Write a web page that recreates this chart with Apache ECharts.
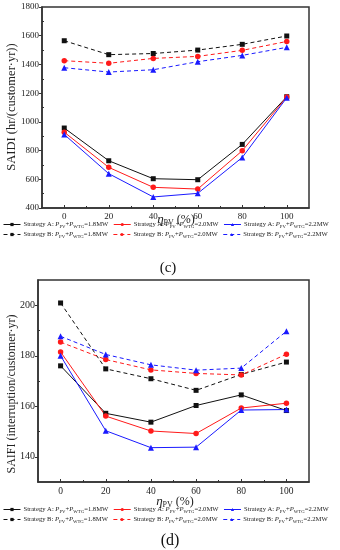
<!DOCTYPE html>
<html><head><meta charset="utf-8">
<script src="https://cdn.jsdelivr.net/npm/echarts@6/dist/echarts.min.js"></script>
<style>html,body{margin:0;padding:0;background:#fff}#c{width:340px;height:550px}</style>
</head><body><div id="c"></div>
<script>
var xValues = [0, 20, 40, 60, 80, 100];
var xMinorTicks = [10, 30, 50, 70, 90];
var saidiTicks = [400, 600, 800, 1000, 1200, 1400, 1600, 1800];
var saidiMinor = [500, 700, 900, 1100, 1300, 1500, 1700];
var saifiTicks = [140, 160, 180, 200];
var saifiMinor = [150, 170, 190];

// SAIDI (c)
var saidiA18 = [957, 729, 604, 597, 843, 1175];
var saidiA20 = [928, 683, 544, 532, 799, 1173];
var saidiA22 = [912, 639, 477, 502, 752, 1168];
var saidiB18 = [1565, 1468, 1476, 1500, 1540, 1598];
var saidiB20 = [1426, 1408, 1442, 1456, 1498, 1560];
var saidiB22 = [1377, 1347, 1363, 1419, 1463, 1519];
// SAIFI (d)
var saifiA18 = [176.0, 157.2, 153.7, 160.3, 164.5, 158.3];
var saifiA20 = [181.5, 156.1, 150.2, 149.2, 159.3, 161.2];
var saifiA22 = [180.0, 150.3, 143.6, 143.8, 158.5, 158.7];
var saifiB18 = [200.9, 174.8, 170.9, 166.3, 172.6, 177.5];
var saifiB20 = [185.4, 178.5, 174.4, 173.0, 172.4, 180.6];
var saifiB22 = [187.7, 180.5, 176.4, 174.3, 175.1, 189.7];

var names = {
  A18: 'Strategy A: PPV+PWTG=1.8MW', A20: 'Strategy A: PPV+PWTG=2.0MW', A22: 'Strategy A: PPV+PWTG=2.2MW',
  B18: 'Strategy B: PPV+PWTG=1.8MW', B20: 'Strategy B: PPV+PWTG=2.0MW', B22: 'Strategy B: PPV+PWTG=2.2MW'
};
var FONT = 'Liberation Serif';
var colors = {18: '#111111', 20: '#ff1a1a', 22: '#1a1aff'};
var symbols = {18: 'rect', 20: 'circle', 22: 'triangle'};
var symSizes = {18: 5, 20: 5.5, 22: 6};

function pairs(vals) { return vals.map(function (v, i) { return [xValues[i], v]; }); }

function mk(key, vals, gi) {
  var cap = key.substr(1);
  var dashed = key[0] === 'B';
  return {
    type: 'line', name: names[key], xAxisIndex: gi * 2, yAxisIndex: gi * 2,
    data: pairs(vals), symbol: symbols[cap], symbolSize: symSizes[cap],
    itemStyle: {color: colors[cap]},
    lineStyle: {color: colors[cap], width: 1, type: dashed ? [4, 3] : 'solid'},
    animation: false, z: dashed ? 2 : 3
  };
}

function legendFmt(name) {
  var m = name.match(/^(Strategy [AB]: )PPV\+PWTG(=.*)$/);
  return '{n|' + m[1] + '}{i|P}{s|PV}{n|+}{i|P}{s|WTG}{n|' + m[2] + '}';
}
var legendRich = {
  n: {fontFamily: FONT, fontSize: 6.6, color: '#222', lineHeight: 10, verticalAlign: 'middle'},
  i: {fontFamily: FONT, fontSize: 6.6, fontStyle: 'italic', color: '#222', lineHeight: 10, verticalAlign: 'middle'},
  s: {fontFamily: FONT, fontSize: 4.8, color: '#222', lineHeight: 10, verticalAlign: 'bottom', padding: [3, 0, 0, 0]}
};
function legendRow(keys, top) {
  return {
    data: keys.map(function (k) { return names[k]; }),
    left: 3, top: top, width: 400, orient: 'horizontal', itemWidth: 17, itemHeight: 4, itemGap: 5,
    padding: 0, textStyle: {rich: legendRich, padding: [0, 0, 0, -2]},
    lineStyle: {width: 1},
    formatter: legendFmt, selectedMode: false
  };
}

function xMain(gi) {
  return {
    type: 'value', gridIndex: gi, min: -10, max: 110,
    axisLine: {show: true, onZero: false, lineStyle: {color: '#333', width: 1.5}},
    axisTick: {show: true, inside: true, length: 3, customValues: xValues, lineStyle: {color: '#333'}},
    axisLabel: {customValues: xValues, fontFamily: FONT, fontSize: gi ? 9.5 : 9, color: '#222', margin: 4},
    splitLine: {show: false}
  };
}
function xMinor(gi) {
  return {
    type: 'value', gridIndex: gi, min: -10, max: 110, position: 'bottom',
    axisLine: {show: false, onZero: false},
    axisTick: {show: true, inside: true, length: 2, customValues: xMinorTicks, lineStyle: {color: '#333'}},
    axisLabel: {show: false}, splitLine: {show: false}
  };
}
function yMain(gi, min, max, ticks, fs) {
  return {
    type: 'value', gridIndex: gi, min: min, max: max, position: 'left',
    axisLine: {show: true, onZero: false, lineStyle: {color: '#333', width: 1.5}},
    axisTick: {show: true, inside: false, length: 3, customValues: ticks, lineStyle: {color: '#333'}},
    axisLabel: {customValues: ticks, fontFamily: FONT, fontSize: fs, color: '#222', margin: 3,
      formatter: function (v) { return String(v); }},
    splitLine: {show: false}
  };
}
function yMinor(gi, min, max, ticks) {
  return {
    type: 'value', gridIndex: gi, min: min, max: max, position: 'left',
    axisLine: {show: false, onZero: false},
    axisTick: {show: true, inside: true, length: 2, customValues: ticks, lineStyle: {color: '#333'}},
    axisLabel: {show: false}, splitLine: {show: false}
  };
}

var series = [];
['A18', 'A20', 'A22', 'B18', 'B20', 'B22'].forEach(function (k) {
  series.push(mk(k, window['saidi' + k], 0));
});
['A18', 'A20', 'A22', 'B18', 'B20', 'B22'].forEach(function (k) {
  series.push(mk(k, window['saifi' + k], 1));
});

function xTitle(x, y) {
  return {
    type: 'text', x: x, y: y,
    style: {
      text: '{e|η}{s|PV}{n| (%)}', textAlign: 'center', textVerticalAlign: 'middle',
      rich: {
        e: {fontFamily: FONT, fontSize: 13, fontStyle: 'italic', fill: '#222', lineHeight: 14, verticalAlign: 'middle'},
        s: {fontFamily: FONT, fontSize: 8, fill: '#222', lineHeight: 14, verticalAlign: 'bottom', padding: [5, 0, 0, 0]},
        n: {fontFamily: FONT, fontSize: 12, fill: '#222', lineHeight: 14, verticalAlign: 'middle'}
      }
    }
  };
}
function yTitle(x, y, t, fs) {
  return {
    type: 'text', x: x, y: y, rotation: Math.PI / 2,
    style: {text: t, fontFamily: FONT, fontSize: fs, fill: '#222', textAlign: 'center', textVerticalAlign: 'middle'}
  };
}

var chart = echarts.init(document.getElementById('c'), null, {renderer: 'canvas'});
chart.setOption({
  backgroundColor: '#fff',
  animation: false,
  grid: [
    {left: 42, top: 7, width: 267, height: 201, show: true, borderColor: '#333', borderWidth: 1.5, backgroundColor: 'transparent'},
    {left: 38, top: 280, width: 271, height: 202, show: true, borderColor: '#333', borderWidth: 1.5, backgroundColor: 'transparent'}
  ],
  xAxis: [xMain(0), xMinor(0), xMain(1), xMinor(1)],
  yAxis: [
    yMain(0, 400, 1800, saidiTicks, 9), yMinor(0, 400, 1800, saidiMinor),
    yMain(1, 130, 210, saifiTicks, 10), yMinor(1, 130, 210, saifiMinor)
  ],
  legend: [
    legendRow(['A18', 'A20', 'A22'], 221),
    legendRow(['B18', 'B20', 'B22'], 231),
    legendRow(['A18', 'A20', 'A22'], 506),
    legendRow(['B18', 'B20', 'B22'], 516)
  ],
  graphic: [
    xTitle(176, 220),
    xTitle(175, 502),
    yTitle(12, 107, 'SAIDI (hr/(customer·yr))', 12.5),
    yTitle(12, 394, 'SAIFI (interruption/customer·yr)', 12),
    {type: 'text', x: 168, y: 268, style: {text: '(c)', fontFamily: FONT, fontSize: 15, fill: '#111', textAlign: 'center', textVerticalAlign: 'middle'}},
    {type: 'text', x: 170, y: 541, style: {text: '(d)', fontFamily: FONT, fontSize: 16, fill: '#111', textAlign: 'center', textVerticalAlign: 'middle'}}
  ],
  series: series
});
</script></body></html>
